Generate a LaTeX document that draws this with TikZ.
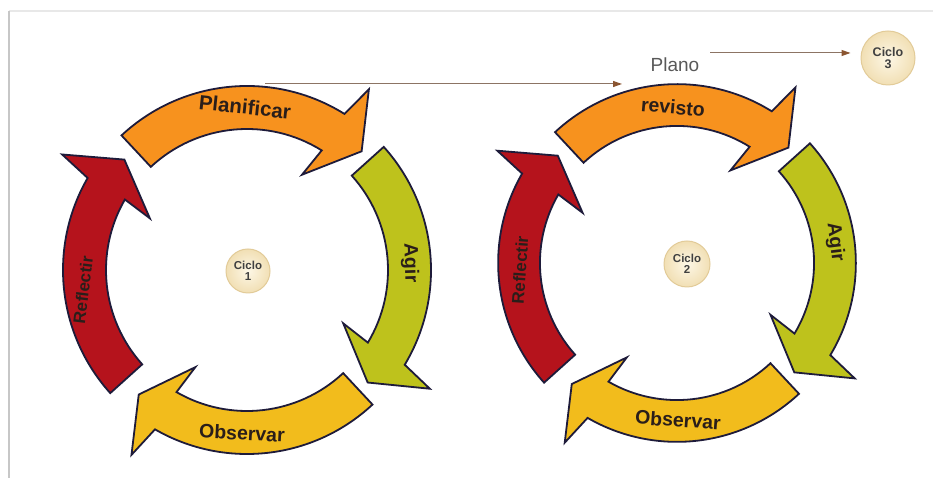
\documentclass[tikz,border=0pt]{standalone}
\usepackage{fontspec}
\setmainfont{Liberation Sans}
\newfontfamily\lblfont{Liberation Sans}
\usetikzlibrary{arrows.meta}
\definecolor{orangeA}{HTML}{F7921E}
\definecolor{greenA}{HTML}{BEC21C}
\definecolor{yellowA}{HTML}{F2BC1C}
\definecolor{redA}{HTML}{B5131C}
\definecolor{edgeA}{HTML}{1E1B3A}
\definecolor{connA}{HTML}{8C7464}
\definecolor{tipA}{HTML}{8B5530}
\definecolor{txtA}{HTML}{2A1E1A}
\definecolor{creamIn}{HTML}{FDF7E6}
\definecolor{creamOut}{HTML}{F1DFB4}
\definecolor{creamEdge}{HTML}{E2CB98}
\newcommand\cycarrow[4]{%
  \filldraw[arrowbody, fill=#4] (#1:184) arc[start angle=#1, end angle=#2, radius=184]
    -- ({#2-2}:218) -- (#3:165) -- ({#2+2}:110) -- (#2:141)
    arc[start angle=#2, end angle=#1, radius=141] -- cycle;}
\newcommand\cycfour{%
  \cycarrow{133}{58}{46}{orangeA}
  \cycarrow{42}{-31}{-43}{greenA}
  \cycarrow{-47}{-120}{-131}{yellowA}
  \cycarrow{222}{150}{138}{redA}}
\tikzset{
  arrowbody/.style={draw=edgeA, line width=1.8pt, line join=miter},
  lbl/.style={text=txtA, font=\lblfont\bfseries\fontsize{19.5}{20}\selectfont, inner sep=0pt},
  ciclo/.style={circle, minimum size=#1, inner sep=0pt, shading=radial,
    inner color=creamIn, outer color=creamOut, draw=creamEdge, line width=1pt,
    text=black!75, align=center, font=\bfseries\fontsize{11.5}{12}\selectfont},
  conn/.style={draw=connA, line width=1pt, -{Triangle[length=9pt,width=6pt,fill=tipA,color=tipA]}},
  framel/.style={draw=black!22, line width=1.6pt},
  framet/.style={draw=black!9, line width=1.4pt}
}
\begin{document}
\begin{tikzpicture}[x=1pt,y=1pt]
\useasboundingbox (0,0) rectangle (933,478);
\fill[white] (0,0) rectangle (933,478);
% frame
\draw[framet] (9,467) -- (933,467);
\draw[framel] (9,0) -- (9,467);
% cycle 1
\begin{scope}[shift={(247,208)}]
  \cycfour
\end{scope}
% cycle 2
\begin{scope}[shift={(677,215)}, scale=0.972]
  \cycfour
\end{scope}
% labels cycle 1
\node[lbl, rotate=-6, font=\lblfont\bfseries\fontsize{20.5}{21}\selectfont] (planificar) at (245,371) {Planificar};
\node[lbl, rotate=-88] (agir1) at (410,215) {Agir};
\node[lbl, rotate=-3] (observar1) at (242,45) {Observar};
\node[lbl, rotate=83, font=\lblfont\bfseries\fontsize{17}{17}\selectfont] (reflectir1) at (83,188) {Reflectir};
% labels cycle 2
\node[lbl, rotate=-5] (revisto) at (673,371) {revisto};
\node[lbl, rotate=-83] (agir2) at (835,236) {Agir};
\node[lbl, rotate=-4] (observar2) at (678,58) {Observar};
\node[lbl, rotate=86, font=\lblfont\bfseries\fontsize{17}{17}\selectfont] (reflectir2) at (520,208) {Reflectir};
% ciclo circles
\node[ciclo=44pt] (c1) at (248,207) {Ciclo\\[-1pt]1};
\node[ciclo=46pt] (c2) at (687,214) {Ciclo\\[-1pt]2};
\node[ciclo=54pt, font=\bfseries\fontsize{12.5}{13}\selectfont] (c3) at (888,420) {Ciclo\\[-1pt]3};
% Plano
\node[text=black!65, font=\fontsize{19}{19}\selectfont, inner sep=0pt] (plano) at (675,413) {Plano};
% connectors
\coordinate (p1) at (265,394);
\coordinate (p2) at (622,394);
\coordinate (p3) at (710,425);
\draw[conn] (p1) -- (p2);
\draw[conn, shorten >=10pt] (p3) -- (p3 -| c3.west);
\end{tikzpicture}
\end{document}
